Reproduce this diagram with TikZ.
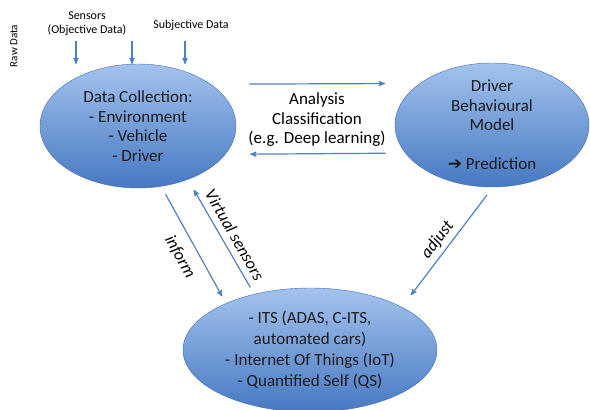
\documentclass[tikz,border=0pt]{standalone}
\usepackage{fontspec}
\setmainfont{Carlito}
\newfontfamily\symfont{DejaVu Sans}
\usetikzlibrary{arrows}
\usetikzlibrary{shapes.geometric}

\definecolor{arrowblue}{RGB}{79,129,189}
\definecolor{lightblue}{RGB}{163,195,237}
\definecolor{darkblue}{RGB}{70,120,194}
\definecolor{rimblue}{RGB}{66,110,176}
\definecolor{inktext}{RGB}{28,28,28}

\begin{document}
\begin{tikzpicture}[x=1pt,y=-1pt,
  >=stealth',semithick,
  blob/.style={ellipse,draw=rimblue,thin,top color=lightblue,bottom color=darkblue,inner sep=0pt,outer sep=0pt,align=center,text=inktext,font=\fontsize{17}{19.5}\selectfont},
  flow/.style={->,draw=arrowblue,line width=1.2pt},
  tag/.style={font=\fontsize{17}{19}\selectfont\itshape,sloped},
  small/.style={font=\fontsize{12}{14}\selectfont,align=center}]
      \useasboundingbox (0,0) rectangle (590,410);

      \node [blob,minimum width=196pt,minimum height=124pt] (data) at (138,126)
        {Data Collection:\\- Environment\\- Vehicle\\- Driver};
      \node [blob,minimum width=194pt,minimum height=124pt,inner ysep=-6pt] (model) at (492,125)
        {Driver\\Behavioural\\Model\\[19.5pt]{\symfont\fontsize{17}{17}\selectfont ➔} Prediction};
      \node [blob,minimum width=254pt,minimum height=124pt,font=\fontsize{17}{21}\selectfont] (its) at (310,350)
        {- ITS (ADAS, C-ITS,\\automated cars)\\- Internet Of Things (IoT)\\- Quantified Self (QS)};

      \node [align=center,font=\fontsize{17}{19.5}\selectfont] (ana) at (317,120)
        {Analysis\\Classification\\(e.g. Deep learning)};

      \node [small] (sens) at (87,24) {Sensors\\(Objective Data)};
      \node [small] (subj) at (191,25) {Subjective Data};
      \node [small,font=\fontsize{11}{13}\selectfont,rotate=90] (raw) at (14,46) {Raw Data};

      \coordinate (s1) at (76,41);
      \coordinate (s2) at (132,41);
      \coordinate (s3) at (185,41);

      \path
	(s1) edge[flow] (s1 |- data.north)
	(s2) edge[flow] (s2 |- data.north)
	(s3) edge[flow] (s3 |- data.north)
	(data.30) edge[flow,shorten <=39pt,shorten >=35pt] (model.150)
	(model.198) edge[flow,shorten <=20pt,shorten >=25pt] (data.342)
	(data.291) edge[flow,shorten <=9pt,shorten >=8pt] node[tag,pos=.53,below=7pt]{inform} (its.151)
	(its.135) edge[flow,shorten <=8pt,shorten >=12pt] node[tag,pos=.46,above=3pt]{Virtual sensors} (data.313)
	(model.271) edge[flow,shorten <=10pt,shorten >=15pt] node[tag,pos=.5,above=1pt]{adjust} (its.25);

  \end{tikzpicture}
\end{document}
